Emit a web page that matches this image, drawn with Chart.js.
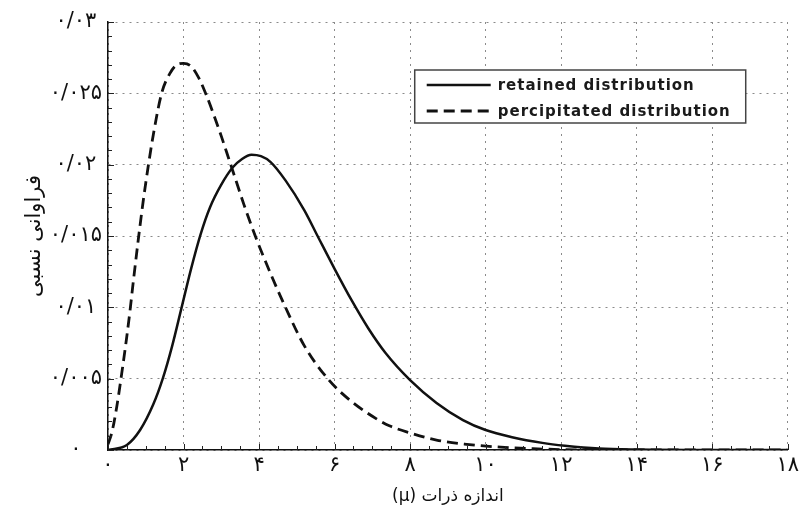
<!DOCTYPE html>
<html>
<head>
<meta charset="utf-8">
<script src="https://cdn.jsdelivr.net/npm/chart.js@4"></script>
<style>
  html, body { margin: 0; padding: 0; background: #fff; }
</style>
</head>
<body>
<canvas id="sizeChart" width="802" height="522"></canvas>
<script>
// particle size (micron) vs relative frequency
const retainedX = [0, 0.5, 0.85, 1.2, 1.45, 1.7, 1.95, 2.2, 2.45, 2.7, 3.0, 3.3, 3.55, 3.8, 4.05, 4.3, 4.7, 5.2, 5.55, 6.0, 6.45, 6.9, 7.35, 8.0, 8.7, 9.4, 10.0, 10.7, 11.5, 12.1, 13, 14, 16, 18];
const retainedY = [0, 0.00035, 0.0014, 0.0032, 0.0050, 0.0073, 0.0100, 0.0127, 0.0151, 0.0170, 0.0186, 0.0198, 0.0204, 0.0207, 0.0206, 0.0202, 0.0189, 0.0168, 0.0150, 0.0127, 0.0105, 0.0085, 0.0068, 0.0049, 0.0033, 0.0021, 0.0014, 0.0009, 0.0005, 0.0003, 0.0001, 0.00003, 0, 0];

const percipX = [0, 0.1, 0.23, 0.36, 0.49, 0.58, 0.67, 0.8, 0.93, 1.06, 1.2, 1.42, 1.64, 1.82, 2.0, 2.2, 2.4, 2.6, 2.8, 3.0, 3.2, 3.4, 3.6, 3.9, 4.3, 4.7, 5.2, 5.85, 6.45, 7.1, 7.45, 8.0, 8.7, 9.5, 10.4, 11.2, 12, 14, 18];
const percipY = [0.0004, 0.0012, 0.0030, 0.0053, 0.0078, 0.0097, 0.0118, 0.0147, 0.0174, 0.0198, 0.0221, 0.0250, 0.0264, 0.0270, 0.0271, 0.0269, 0.0261, 0.0249, 0.0235, 0.0220, 0.0204, 0.0188, 0.0172, 0.0150, 0.0124, 0.0100, 0.0073, 0.0049, 0.0034, 0.0022, 0.0017, 0.0012, 0.0007, 0.0004, 0.0002, 0.0001, 0.00003, 0, 0];

const seriesLabels = ['retained distribution', 'percipitated distribution'];

const xTickLabels = ['۰', '۲', '۴', '۶', '۸', '۱۰', '۱۲', '۱۴', '۱۶', '۱۸'];
const yTickLabels = ['۰', '۰/۰۰۵', '۰/۰۱', '۰/۰۱۵', '۰/۰۲', '۰/۰۲۵', '۰/۰۳'];

const xTitle = '\u202Bاندازه ذرات (μ)\u202C';
const yTitle = 'فراوانی نسبی';

const faFont = '"DejaVu Sans", sans-serif';

function toPoints(xs, ys) {
    return xs.map((x, i) => ({ x: x, y: ys[i] }));
}

function xMajorIndex(v) {
    const k = Math.round(v * 2);       // half-unit steps
    return k % 4 === 0 ? k / 4 : -1;    // a label every 2 units
}

function yMajorIndex(v) {
    const k = Math.round(v * 1000);    // 0.001 steps
    return k % 5 === 0 ? k / 5 : -1;
}

// short tick marks drawn inward from the left and bottom axes
const innerTicks = {
    id: 'innerTicks',
    afterDraw(chart) {
        const { ctx, chartArea, scales } = chart;
        ctx.save();
        ctx.strokeStyle = '#222';
        ctx.lineWidth = 1;
        ctx.beginPath();
        scales.x.ticks.forEach(t => {
            const px = Math.round(scales.x.getPixelForValue(t.value)) + 0.5;
            const len = xMajorIndex(t.value) >= 0 ? 6 : 4;
            ctx.moveTo(px, chartArea.bottom);
            ctx.lineTo(px, chartArea.bottom - len);
        });
        scales.y.ticks.forEach(t => {
            const py = Math.round(scales.y.getPixelForValue(t.value)) + 0.5;
            const len = yMajorIndex(t.value) >= 0 ? 6 : 4;
            ctx.moveTo(chartArea.left, py);
            ctx.lineTo(chartArea.left + len, py);
        });
        ctx.stroke();
        ctx.restore();
    }
};

// boxed legend in the upper right of the plot
const boxLegend = {
    id: 'boxLegend',
    afterDraw(chart) {
        const { ctx, chartArea } = chart;
        const w = 331, h = 53;
        const left = chartArea.right - 42 - w;
        const top = chartArea.top + 48;
        ctx.save();
        ctx.fillStyle = '#fff';
        ctx.fillRect(left, top, w, h);
        ctx.strokeStyle = '#444';
        ctx.lineWidth = 1.5;
        ctx.strokeRect(left, top, w, h);
        ctx.font = 'bold 15px "DejaVu Sans", sans-serif';
        ctx.letterSpacing = '1px';
        ctx.textBaseline = 'middle';
        chart.data.datasets.forEach((ds, i) => {
            const y = top + 15 + i * 26;
            ctx.beginPath();
            ctx.setLineDash(ds.borderDash || []);
            ctx.lineWidth = ds.borderWidth;
            ctx.strokeStyle = ds.borderColor;
            ctx.moveTo(left + 12, y);
            ctx.lineTo(left + 76, y);
            ctx.stroke();
            ctx.setLineDash([]);
            ctx.fillStyle = '#1a1a1a';
            ctx.fillText(ds.label, left + 83, y + 1);
        });
        ctx.restore();
    }
};

const ctx = document.getElementById('sizeChart').getContext('2d');

new Chart(ctx, {
    type: 'line',
    data: {
        datasets: [{
            label: seriesLabels[0],
            data: toPoints(retainedX, retainedY),
            borderColor: '#111',
            borderWidth: 2.5,
            pointRadius: 0,
            fill: false,
            cubicInterpolationMode: 'monotone'
        }, {
            label: seriesLabels[1],
            data: toPoints(percipX, percipY),
            borderColor: '#111',
            borderWidth: 2.8,
            borderDash: [11, 6],
            pointRadius: 0,
            fill: false,
            cubicInterpolationMode: 'monotone'
        }]
    },
    options: {
        responsive: false,
        animation: false,
        layout: { padding: { top: 22, right: 12, left: 0, bottom: 0 } },
        plugins: {
            legend: { display: false },
            tooltip: { enabled: false }
        },
        scales: {
            x: {
                type: 'linear',
                min: 0,
                max: 18,
                afterFit: s => { s.height = 72; },
                ticks: {
                    stepSize: 0.5,
                    autoSkip: false,
                    maxRotation: 0,
                    padding: 3,
                    color: '#111',
                    font: { family: faFont, size: 21 },
                    callback: v => {
                        const i = xMajorIndex(v);
                        return i >= 0 ? xTickLabels[i] : '';
                    }
                },
                grid: {
                    drawTicks: false,
                    lineWidth: 1,
                    color: c => (c.tick && xMajorIndex(c.tick.value) >= 0) ? '#8a8a8a' : 'rgba(0,0,0,0)'
                },
                border: { display: true, color: '#111', width: 1.5, dash: [2, 5] },
                title: {
                    display: true,
                    text: xTitle,
                    color: '#111',
                    font: { family: faFont, size: 17 },
                    padding: { top: 0, bottom: 15 }
                }
            },
            y: {
                min: 0,
                max: 0.03,
                afterFit: s => { s.width = 108; },
                ticks: {
                    stepSize: 0.001,
                    autoSkip: false,
                    crossAlign: 'center',
                    padding: 6,
                    color: '#111',
                    font: { family: faFont, size: 21 },
                    callback: v => {
                        const i = yMajorIndex(v);
                        return i >= 0 ? yTickLabels[i] : '';
                    }
                },
                grid: {
                    drawTicks: false,
                    lineWidth: 1,
                    color: c => (c.tick && yMajorIndex(c.tick.value) >= 0) ? '#8a8a8a' : 'rgba(0,0,0,0)'
                },
                border: { display: true, color: '#111', width: 1.5, dash: [2, 5] },
                title: {
                    display: true,
                    text: yTitle,
                    color: '#111',
                    font: { family: faFont, size: 21 },
                    padding: { top: 22, bottom: 0 }
                }
            }
        }
    },
    plugins: [innerTicks, boxLegend]
});
</script>
</body>
</html>
